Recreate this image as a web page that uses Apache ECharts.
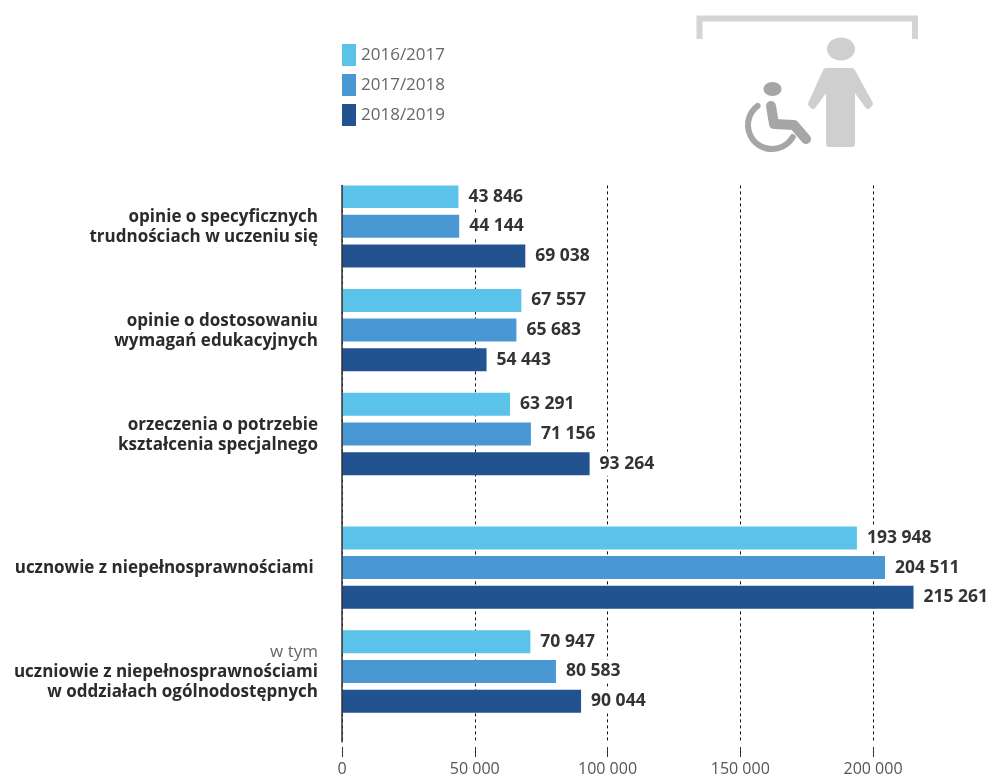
<!DOCTYPE html>
<html>
<head>
<meta charset="utf-8">
<style>html,body{margin:0;padding:0;background:#fff}#c{width:987px;height:774px}</style>
<script src="https://cdn.jsdelivr.net/npm/echarts@6/dist/echarts.min.js"></script>
</head>
<body>
<div id="c"></div>
<script>
const categories = [
  "opinie o specyficznych\ntrudnościach w uczeniu się",
  "opinie o dostosowaniu\nwymagań edukacyjnych",
  "orzeczenia o potrzebie\nkształcenia specjalnego",
  "ucznowie z niepełnosprawnościami ",
  "w tym\nuczniowie z niepełnosprawnościami\nw oddziałach ogólnodostępnych"
];
const seriesNames = ["2016/2017", "2017/2018", "2018/2019"];
const values1617 = [43846, 67557, 63291, 193948, 70947];
const values1718 = [44144, 65683, 71156, 204511, 80583];
const values1819 = [69038, 54443, 93264, 215261, 90044];
const colors = ["#5bc3e9", "#4a98d3", "#22528f"];
const xTicks = [0, 50000, 100000, 150000, 200000];

// The reference has a wider gap between groups 3 and 4, so the band axis is split
// into thin rows; each group starts on its own row and each bar takes every 4th row.
const groupStartRow = [1, 15, 29, 47, 61];
const rowCount = 75;
const rows = new Array(rowCount).fill("");
groupStartRow.forEach((r, i) => { rows[r + 4] = categories[i]; });
function toRows(values, k) {
  const d = new Array(rowCount).fill(null);
  groupStartRow.forEach((r, i) => { d[r + k * 4] = values[i]; });
  return d;
}
const fmt = v => String(v).replace(/\B(?=(\d{3})+(?!\d))/g, "\u00a0");
const font = "'Open Sans'";

const chart = echarts.init(document.getElementById("c"), null, {renderer: "canvas"});
chart.setOption({
  animation: false,
  backgroundColor: "#fff",
  textStyle: {fontFamily: font},
  legend: {
    left: 342, top: 44, orient: "vertical", icon: "rect", padding: 0,
    itemWidth: 14, itemHeight: 22, itemGap: 8,
    selectedMode: false,
    data: seriesNames,
    textStyle: {fontFamily: font, fontSize: 17, color: "#666"}
  },
  grid: {left: 342, top: 185.4, width: 637.2, height: 556.6, containLabel: false, outerBoundsMode: "none"},
  xAxis: {
    type: "value", min: 0, max: 240000, interval: 50000, position: "bottom", offset: 5,
    axisLine: {show: false},
    axisTick: {show: true, length: 10, customValues: xTicks, lineStyle: {color: "#333", width: 1}},
    axisLabel: {
      customValues: xTicks, margin: 14, fontFamily: font, fontSize: 16, color: "#555",
      formatter: v => fmt(v)
    },
    splitLine: {show: true, lineStyle: {color: "#111", type: [3, 3], width: 1}}
  },
  yAxis: {
    type: "category", inverse: true, data: rows, z: 5,
    axisLine: {show: true, onZero: false, lineStyle: {color: "#333", width: 1.5}},
    axisTick: {show: false},
    axisLabel: {
      interval: 0, margin: 24, align: "right",
      formatter: v => v.split("\n").map(l => (l === "w tym" ? "{g|" : "{b|") + l + "}").join("\n"),
      rich: {
        b: {fontFamily: font, fontWeight: "bold", fontSize: 17, color: "#2b2b2b", lineHeight: 20, align: "right", padding: [2, 0, 0, 0]},
        g: {fontFamily: font, fontSize: 17, color: "#666", lineHeight: 19, align: "right", padding: [2, 0, 0, 0]}
      }
    },
    splitLine: {show: false}
  },
  series: [values1617, values1718, values1819].map((v, k) => ({
    name: seriesNames[k], type: "bar", data: toRows(v, k),
    barWidth: 23, barGap: "-100%",
    itemStyle: {color: colors[k]},
    z: 3,
    label: {
      show: true, position: "right", distance: 6,
      formatter: p => fmt(p.value),
      fontFamily: font, fontWeight: "bold", fontSize: 17.5, color: "#333",
      backgroundColor: "#fff", padding: [3, 4]
    }
  })),
  graphic: [
    {type: "polyline", shape: {points: [[699.5, 39], [699.5, 18.5], [915, 18.5], [915, 39]]},
      style: {stroke: "#d4d4d4", lineWidth: 6, fill: null}},
    {type: "ellipse", shape: {cx: 841, cy: 49, rx: 14, ry: 11.5}, style: {fill: "#cfcfcf"}},
    {type: "polygon", shape: {points: [[826, 71], [852, 71], [870, 104], [868, 106], [852, 84], [852, 144], [829, 144], [829, 84], [813, 106], [811, 104]]},
      style: {fill: "#cfcfcf", stroke: "#cfcfcf", lineWidth: 6, lineJoin: "round"}},
    {type: "ellipse", shape: {cx: 772.5, cy: 89, rx: 9, ry: 7}, style: {fill: "#a6a6a6"}},
    {type: "polyline", shape: {points: [[771, 106], [774, 124], [794, 125], [806, 139]]},
      style: {stroke: "#a6a6a6", lineWidth: 10, fill: null, lineJoin: "round", lineCap: "round"}},
    {type: "arc", shape: {cx: 772, cy: 125, r: 24, startAngle: Math.PI * 30 / 180, endAngle: Math.PI * 233 / 180, clockwise: true},
      style: {stroke: "#a6a6a6", lineWidth: 6, fill: null, lineCap: "round"}}
  ]
});
</script>
</body>
</html>
